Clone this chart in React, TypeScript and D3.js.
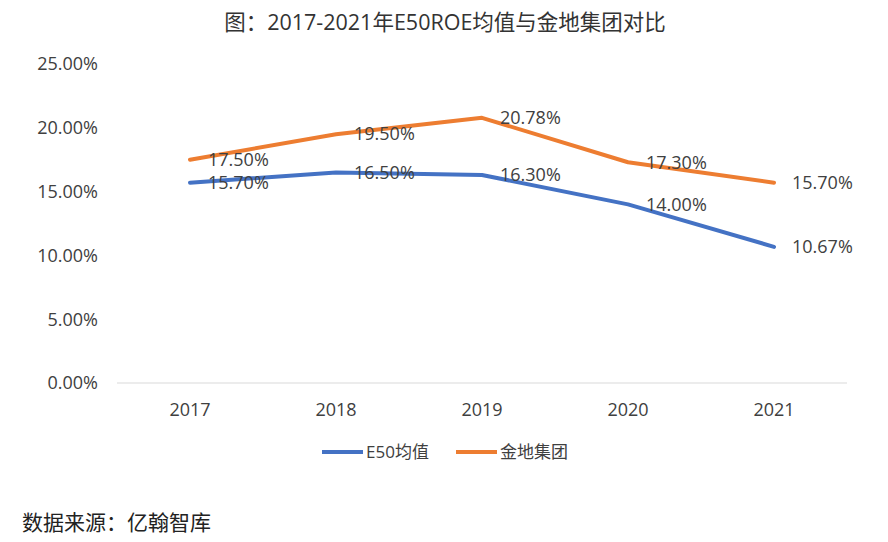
import React from "react";
import * as d3 from "d3";

const title = "图：2017-2021年E50ROE均值与金地集团对比";
const years = ["2017", "2018", "2019", "2020", "2021"];
const e50 = [0.157, 0.165, 0.163, 0.14, 0.1067];
const jindi = [0.175, 0.195, 0.2078, 0.173, 0.157];
const yTicks = [0, 0.05, 0.1, 0.15, 0.2, 0.25];
const seriesNames = ["E50均值", "金地集团"];
const source = "数据来源：亿翰智库";

const W = 888;
const H = 542;
const FONT = "'Open Sans', 'Noto Sans CJK SC', sans-serif";
const COLORS = ["#4472C4", "#ED7D31"];

export default function App() {
  const x = d3.scalePoint<string>().domain(years).range([117, 847]).padding(0.5);
  const y = d3.scaleLinear().domain([0, 0.25]).range([383, 64]);
  const fmt = (v: number) => (v * 100).toFixed(2) + "%";
  const line = d3
    .line<number>()
    .x((_, i) => x(years[i]) as number)
    .y((d) => y(d));
  const series = [e50, jindi];

  return (
    <svg
      width={W}
      height={H}
      style={{ position: "absolute", left: 0, top: 0, background: "#fff" }}
      fontFamily={FONT}
    >
      <rect x={0} y={0} width={W} height={H} fill="#fff" />
      <text x={445} y={22} dy="0.35em" textAnchor="middle" fontSize={21.5} fill="#333">
        {title}
      </text>
      {yTicks.map((t) => (
        <text key={t} x={98} y={y(t)} dy="0.35em" textAnchor="end" fontSize={18} fill="#404040">
          {fmt(t)}
        </text>
      ))}
      <line x1={117} x2={847} y1={y(0)} y2={y(0)} stroke="#d9d9d9" strokeWidth={1.2} />
      {years.map((yr) => (
        <text key={yr} x={x(yr)} y={410} dy="0.35em" textAnchor="middle" fontSize={18} fill="#404040">
          {yr}
        </text>
      ))}
      {series.map((s, si) => (
        <path
          key={si}
          d={line(s) as string}
          fill="none"
          stroke={COLORS[si]}
          strokeWidth={4}
          strokeLinejoin="round"
          strokeLinecap="round"
        />
      ))}
      {series.map((s, si) =>
        s.map((v, i) => (
          <text
            key={si + "-" + i}
            x={(x(years[i]) as number) + 18}
            y={y(v)}
            dy="0.35em"
            fontSize={18}
            fill="#404040"
          >
            {fmt(v)}
          </text>
        ))
      )}
      {seriesNames.map((n, i) => {
        const lx = i === 0 ? 322 : 456;
        return (
          <g key={n}>
            <line x1={lx} x2={lx + 41} y1={452} y2={452} stroke={COLORS[i]} strokeWidth={4} />
            <text x={lx + 44} y={452} dy="0.35em" fontSize={17} fill="#404040">
              {n}
            </text>
          </g>
        );
      })}
      <text x={22} y={523} dy="0.35em" fontSize={21} fill="#222">
        {source}
      </text>
    </svg>
  );
}
